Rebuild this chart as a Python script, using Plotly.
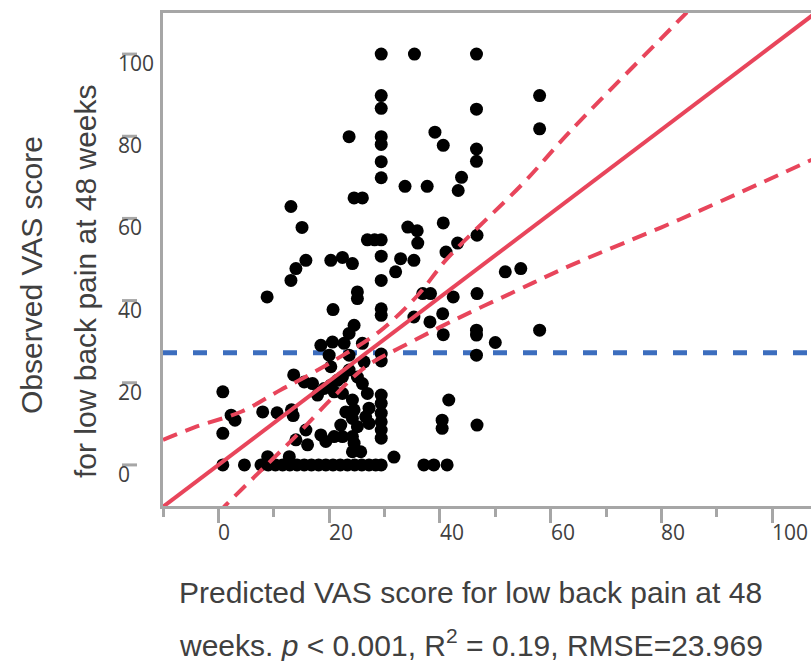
import plotly.graph_objects as go

# ---------------- data ----------------
pred_x = [
    29.4, 35.4, 46.6,
    29.4, 29.4, 58.0, 46.6,
    23.6, 29.4, 29.4, 39.1, 40.6, 58.0,
    46.6, 46.6, 29.4, 29.4, 43.9, 43.3,
    33.7, 37.7, 24.5, 26.0, 13.1,
    15.1, 40.6, 34.2, 35.9, 36.0, 46.7, 43.2,
    26.9, 28.2, 29.4, 41.1,
    15.8, 14.0, 13.1, 20.3, 22.4, 24.2, 29.4,
    32.9, 35.3, 32.0, 29.4, 51.8, 54.6,
    8.8, 25.1, 25.1, 20.7, 29.4, 29.4,
    36.9, 38.3, 42.4, 46.7,
    35.3, 38.2, 40.5, 40.6, 46.6, 46.6, 58.0, 50.0,
    24.5, 23.6, 46.6,
    18.5, 20.6, 22.7, 26.0, 20.0, 23.6, 20.3, 26.3, 29.4, 29.4,
    13.6, 15.5, 17.0, 17.9,
    19.1, 20.3, 21.5, 22.4, 23.6, 25.1, 26.0,
    20.9, 22.4, 24.2, 24.5, 26.9, 27.2, 23.0, 24.2, 25.1, 27.2, 22.1, 26.6,
    29.4, 29.4, 29.4, 29.4, 29.4, 29.4,
    41.6, 40.4, 40.4, 46.7,
    8.0, 10.6, 13.2, 13.5,
    0.8, 2.3, 3.0, 0.8,
    15.8, 16.1, 14.0, 18.5, 19.4, 20.9, 22.4, 24.2, 24.5, 24.2, 25.7,
    8.9, 12.8, 31.7,
    0.8, 4.7, 7.7, 9.0, 10.3, 11.6, 12.9, 14.2, 15.5, 16.8, 18.1, 19.4,
    20.7, 22.0, 23.3, 24.6, 25.9, 27.2, 28.4, 29.4, 37.1, 38.9, 41.3,
]
obs_y = [
    100, 100, 100,
    89.9, 86.8, 89.9, 86.6,
    79.9, 79.9, 78.0, 81.0, 77.8, 81.8,
    76.9, 73.9, 73.8, 69.9, 70.0, 66.8,
    67.8, 67.8, 65.0, 65.0, 62.9,
    57.8, 58.9, 57.9, 57.0, 54.0, 55.9, 54.0,
    54.8, 54.8, 54.8, 51.8,
    49.8, 47.8, 44.9, 49.8, 50.5, 49.0, 50.8,
    50.2, 49.8, 47.0, 44.9, 47.0, 47.8,
    40.9, 42.1, 40.5, 37.8, 38.0, 36.4,
    41.7, 41.7, 40.9, 41.7,
    36.0, 34.8, 36.8, 31.7, 32.8, 31.6, 32.8, 29.8,
    34.0, 32.0, 26.7,
    29.1, 29.9, 29.6, 29.6, 26.7, 26.7, 23.9, 25.1, 27.0, 25.3,
    21.9, 20.2, 19.8, 17.0,
    18.6, 19.4, 20.6, 21.4, 23.1, 21.4, 19.8,
    17.8, 17.4, 15.8, 13.4, 17.4, 13.8, 12.9, 11.3, 9.3, 10.1, 9.7, 11.7,
    17.0, 15.0, 12.6, 10.5, 8.5, 6.5,
    15.8, 10.9, 8.9, 9.7,
    12.9, 12.7, 13.4, 12.0,
    17.8, 12.1, 10.9, 7.7,
    8.5, 4.9, 6.1, 7.3, 5.7, 6.9, 6.9, 6.9, 5.3, 3.2, 3.2,
    2.0, 2.0, 1.9,
    0, 0, 0, 0, 0, 0, 0, 0, 0, 0, 0, 0,
    0, 0, 0, 0, 0, 0, 0, 0, 0, 0, 0,
]

fit_x = [-10, 108]
fit_y = [-10.2, 110.2]

upper_x = [-10, -4, 4.2, 11.3, 15.7, 22, 29, 36, 41.3, 55.2, 63.5, 84.1, 88]
upper_y = [6.1, 9.3, 13.0, 18.3, 21.4, 26.3, 32.4, 41.3, 50.2, 68.8, 81.2, 109.5, 115]

lower_x = [-3, 1.4, 7.2, 13.9, 20.5, 26.6, 33.2, 43.1, 53.5, 63.5, 83.4, 108]
lower_y = [-16, -9.7, -2.0, 6.9, 16.2, 23.9, 28.8, 35.6, 42.2, 48.5, 59.8, 74.8]

cutoff_y = 27.3

x_ticks = [0, 20, 40, 60, 80, 100]
y_ticks = [0, 20, 40, 60, 80, 100]
x_title_lines = ["Predicted VAS score for low back pain at 48",
                 "weeks. <i>p</i> < 0.001, R<sup>2</sup> = 0.19, RMSE=23.969"]
y_title_lines = ["Observed VAS score", "for low back pain at 48 weeks"]

# ---------------- styling ----------------
RED = "#E8455B"
BLUE = "#3C6DBE"
GRAY = "#A6A6A6"
TXT = "#404040"
W, H = 811, 661
L, R, T, B = 163, 0, 13, 155
PW, PH = W - L - R, H - T - B

fig = go.Figure()

fig.add_trace(go.Scatter(
    x=[-10, 108], y=[cutoff_y, cutoff_y], mode="lines",
    line=dict(color=BLUE, width=5, dash="14px,16px"), hoverinfo="skip"))

fig.add_trace(go.Scatter(
    x=pred_x, y=obs_y, mode="markers",
    marker=dict(color="black", size=13, line=dict(width=0))))

fig.add_trace(go.Scatter(
    x=upper_x, y=upper_y, mode="lines", line_shape="spline",
    line=dict(color=RED, width=4, dash="15px,9px"), hoverinfo="skip"))
fig.add_trace(go.Scatter(
    x=lower_x, y=lower_y, mode="lines", line_shape="spline",
    line=dict(color=RED, width=4, dash="15px,9px"), hoverinfo="skip"))
fig.add_trace(go.Scatter(
    x=fit_x, y=fit_y, mode="lines",
    line=dict(color=RED, width=4), hoverinfo="skip"))

annotations = []
tick_font = dict(family="Open Sans", size=21, color=TXT)
for v in x_ticks:
    annotations.append(dict(
        x=v, xref="x", y=0, yref="paper", text=str(v), showarrow=False,
        xanchor="left", yanchor="top", xshift=-2, yshift=-10, font=tick_font))
shapes = []
for v in y_ticks:
    annotations.append(dict(
        x=0, xref="paper", y=v, yref="y", text=str(v), showarrow=False,
        xanchor="left", yanchor="top", xshift=-47, yshift=7, font=tick_font))
    shapes.append(dict(
        type="line", xref="paper", yref="y", xsizemode="pixel", xanchor=0,
        x0=-41, x1=-26, y0=v, y1=v, line=dict(color=GRAY, width=3)))

title_font = dict(family="Liberation Sans", size=30, color=TXT)
annotations.append(dict(
    x=0, xref="paper", y=(H - B - 592) / PH,
    yref="paper", text=x_title_lines[0], showarrow=False,
    xanchor="left", yanchor="middle", xshift=180 - L - 3, font=title_font))
annotations.append(dict(
    x=0, xref="paper", y=(H - B - 643) / PH,
    yref="paper", text=x_title_lines[1], showarrow=False,
    xanchor="left", yanchor="middle", xshift=180 - L - 3, font=title_font))
annotations.append(dict(
    x=0, xref="paper", y=(H - B - 275) / PH, yref="paper",
    text=y_title_lines[0], showarrow=False, textangle=-90,
    xanchor="center", yanchor="middle", xshift=31 - L, font=title_font))
annotations.append(dict(
    x=0, xref="paper", y=(H - B - 281) / PH, yref="paper",
    text=y_title_lines[1], showarrow=False, textangle=-90,
    xanchor="center", yanchor="middle", xshift=86 - L, font=title_font))

fig.update_layout(
    width=W, height=H,
    margin=dict(l=L, r=R, t=T, b=B, pad=0),
    paper_bgcolor="white", plot_bgcolor="white",
    showlegend=False,
    annotations=annotations, shapes=shapes,
    xaxis=dict(range=[-10, 107], showgrid=False, zeroline=False,
               showline=True, linecolor=GRAY, linewidth=3, mirror=True,
               tickvals=x_ticks, ticks="outside", ticklen=14, tickwidth=3,
               tickcolor=GRAY, showticklabels=False,
               minor=dict(dtick=10, tick0=0, ticks="outside", ticklen=8,
                          tickwidth=3, tickcolor=GRAY)),
    yaxis=dict(range=[-10, 110], showgrid=False, zeroline=False,
               showline=True, linecolor=GRAY, linewidth=3, mirror=False,
               ticks="", showticklabels=False),
)

fig.write_html("out.html", config={"displayModeBar": False},
               post_script="document.body.style.margin='0';document.body.style.overflow='hidden';")
